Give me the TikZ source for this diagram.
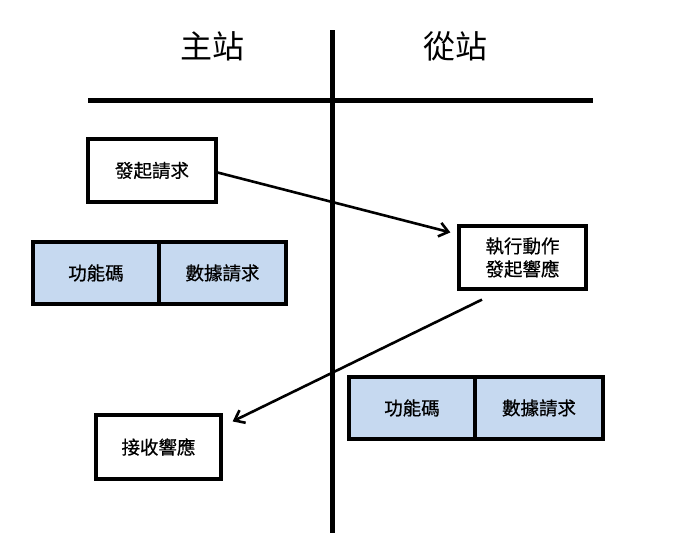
\documentclass[tikz,border=0pt]{standalone}
\usepackage{fontspec}
\newfontfamily\cjk[FakeBold=0.6]{Noto Sans CJK TC}
\newfontfamily\cjktitle{Noto Sans CJK TC}
\usetikzlibrary{arrows.meta}
\begin{document}
\begin{tikzpicture}[x=1pt,y=-1pt,
  box/.style={draw=black,line width=3.2pt,fill=white,rectangle,inner sep=0pt,align=center,font=\cjk\fontsize{18.5}{23}\selectfont},
  field/.style={box,fill=fieldblue,minimum height=62pt},
  title/.style={font=\cjktitle\fontsize{32}{36}\selectfont},
  arr/.style={line width=2.6pt,-{Straight Barb[length=9pt,width=14pt,line width=2.6pt]}},
  axis/.style={line width=5pt}]
\definecolor{fieldblue}{RGB}{198,217,240}
\useasboundingbox (0,0) rectangle (681,560);
% axes
\coordinate (vt) at (332,30);
\coordinate (vb) at (332,533);
\coordinate (hl) at (88,100);
\coordinate (hr) at (593,100);
\draw[axis] (vt) -- (vb);
\draw[axis] (hl) -- (hr);
% titles
\node[title] (master) at (212,46) {主站};
\node[title] (slave) at (455,46) {從站};
% boxes
\node[box,minimum width=128pt,minimum height=63pt] (req) at (152,170.5) {發起請求};
\node[box,minimum width=127pt,minimum height=63pt] (exec) at (522.5,257.5) {執行動作\\發起響應};
\node[box,minimum width=125pt,minimum height=64pt] (recv) at (158.5,447) {接收響應};
% frames
\node[field,minimum width=126pt] (lfc) at (96,273) {功能碼};
\node[field,minimum width=127pt] (ldata) at (222.5,273) {數據請求};
\node[field,minimum width=126pt] (rfc) at (412,408) {功能碼};
\node[field,minimum width=128pt] (rdata) at (539,408) {數據請求};
% arrows
\draw[arr] ([yshift=-2pt]req.east) -- ([shift={(-7pt,-8pt)}]exec.north west);
\draw[arr] ([shift={(-40.5pt,-9pt)}]exec.south) -- ([shift={(10pt,-8pt)}]recv.north east);
\end{tikzpicture}
\end{document}
